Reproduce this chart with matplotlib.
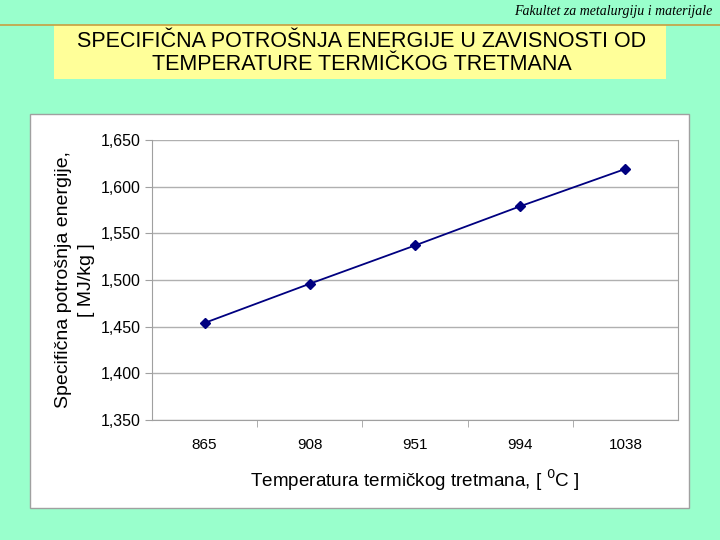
import matplotlib.pyplot as plt
from matplotlib.patches import Rectangle
from matplotlib.ticker import FuncFormatter

# data
temperatures = ["865", "908", "951", "994", "1038"]
energy = [1454, 1496, 1537, 1579, 1619]
y_ticks = [1350, 1400, 1450, 1500, 1550, 1600, 1650]

plt.rcParams['font.family'] = ['Liberation Sans', 'DejaVu Sans']

bg = '#99FFCC'
fig = plt.figure(figsize=(7.2, 5.4), dpi=100, facecolor=bg)

W, H = 720, 540

def box(x0, y0, x1, y1, **kw):
    # rectangle in pixel coords (top-left origin) -> figure fraction
    r = Rectangle((x0 / W, 1 - y1 / H), (x1 - x0) / W, (y1 - y0) / H,
                  transform=fig.transFigure, zorder=-1, **kw)
    fig.patches.append(r)

# header line and text
fig.add_artist(plt.Line2D([0, 1], [1 - 24.5 / H] * 2, transform=fig.transFigure,
                          color='#C8A040', lw=1.2))
fig.text(712 / W, 1 - 12 / H, "Fakultet za metalurgiju i materijale",
         ha='right', va='center', fontsize=10, style='italic',
         family=['Liberation Serif', 'DejaVu Serif'])

# yellow title box
box(54, 25, 666, 79, facecolor='#FFFF99', edgecolor='none')
fig.text(362 / W, 1 - 53 / H,
         "SPECIFIČNA POTROŠNJA ENERGIJE U ZAVISNOSTI OD\nTEMPERATURE TERMIČKOG TRETMANA",
         ha='center', va='center', fontsize=15.5, linespacing=1.15)

# white chart panel
box(30, 114, 689, 508, facecolor='white', edgecolor='#A0A0A0', lw=1.0)

ax = fig.add_axes([152 / W, 1 - 420 / H, (678 - 152) / W, (420 - 140) / H])
ax.set_facecolor('white')

x = list(range(len(temperatures)))
ax.plot(x, energy, color='#000080', lw=1.3, marker='D', markersize=5.5)

ax.set_xlim(-0.5, len(temperatures) - 0.5)
ax.set_ylim(1350, 1650)
ax.set_yticks(y_ticks)
ax.yaxis.set_major_formatter(FuncFormatter(lambda v, p: f"{int(v):,}"))
ax.grid(axis='y', color='#B0B0B0', lw=1.0)
ax.set_axisbelow(True)

ax.set_xticks(x)
ax.set_xticklabels(temperatures)
ax.set_xticks([i + 0.5 for i in x[:-1]], minor=True)
ax.tick_params(axis='x', which='major', length=0, pad=13, labelsize=11)
ax.tick_params(axis='x', which='minor', length=5, color='#A0A0A0', direction='out')
ax.tick_params(axis='y', length=5, color='#A0A0A0', labelsize=11.5, pad=3)

for s in ['left', 'bottom', 'right']:
    ax.spines[s].set_color('#A0A0A0')
ax.spines['top'].set_visible(False)

ax.set_xlabel("Temperatura termičkog tretmana, [ $^{0}$C ]", fontsize=13.6, labelpad=11)
ax.set_ylabel("Specifična potrošnja energije,\n[ MJ/kg ]", fontsize=14,
              labelpad=4, linespacing=1.5)

fig.savefig("out.png", dpi=100, facecolor=bg)
